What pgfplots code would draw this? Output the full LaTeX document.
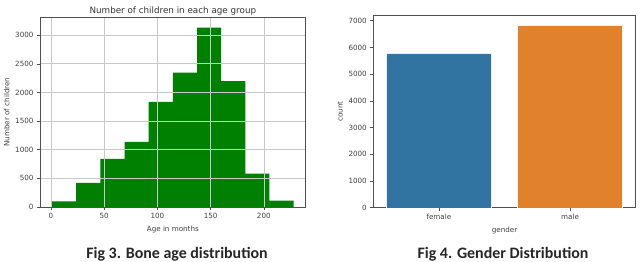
\documentclass[border=0pt]{standalone}
\usepackage{pgfplots}
\pgfplotsset{compat=1.18}
\usepackage{fontspec}
\setmainfont{DejaVu Sans}
\newfontfamily\capfont{Carlito}
\definecolor{mplgreen}{HTML}{008000}
\definecolor{sbblue}{HTML}{3274A1}
\definecolor{sborange}{HTML}{E1812C}
\definecolor{spine}{HTML}{505050}
\definecolor{gridc}{HTML}{C8C8C8}
\begin{document}
\begin{tikzpicture}
\path[use as bounding box] (0bp,0bp) rectangle (640bp,262bp);
\pgfplotsset{every axis/.append style={
  scale only axis,
  axis line style={spine, line width=0.6bp},
  tick style={spine, line width=0.5bp},
  tick align=outside,
  major tick length=3bp,
  tick label style={font=\fontsize{7.2}{8}\selectfont, text=black!75},
  label style={font=\fontsize{7.2}{8}\selectfont, text=black!75},
  /pgf/number format/assume math mode=true,
  /pgf/number format/1000 sep={},
  xtick pos=bottom, ytick pos=left,
}}
\begin{axis}[
  at={(40bp,55bp)}, anchor=south west,
  width=265.7bp, height=190bp,
  xmin=-10.35, xmax=239.35, ymin=0, ymax=3316,
  xtick={0,50,100,150,200},
  ytick={0,500,1000,1500,2000,2500,3000},
  grid=major,
  major grid style={gridc, line width=0.6bp},
  axis on top,
  title={Number of children in each age group},
  title style={font=\fontsize{8.8}{9}\selectfont, text=black!80, yshift=-8bp},
  xlabel={Age in months},
  ylabel={Number of children},
  xlabel style={yshift=0bp},
  ylabel style={yshift=-1bp},
]
\addplot[ybar interval, fill=mplgreen, draw=none] coordinates {
(1,99) (23.7,420) (46.4,839) (69.1,1136) (91.8,1836) (114.5,2343)
(137.2,3129) (159.9,2198) (182.6,584) (205.3,112) (228,0)
};
\end{axis}
\begin{axis}[
  at={(373.3bp,54.3bp)}, anchor=south west,
  width=262.4bp, height=192.7bp,
  xmin=-0.5, xmax=1.5, ymin=0, ymax=7213,
  xtick={0,1}, xticklabels={female,male},
  ytick={0,1000,2000,3000,4000,5000,6000,7000},
  xlabel={gender}, ylabel={count},
  xlabel style={yshift=0bp},
  ylabel style={yshift=-1bp},
]
\addplot[ybar, bar width=0.8, fill=sbblue, draw=white!90!sbblue, line width=0.4bp] coordinates {(0,5780)};
\addplot[ybar, bar width=0.8, fill=sborange, draw=white!90!sborange, line width=0.4bp] coordinates {(1,6840)};
\end{axis}
\node[font=\capfont\bfseries\fontsize{16}{18}\selectfont, text=black!85] at (177bp,7.5bp) {Fig 3. Bone age distribution};
\node[font=\capfont\bfseries\fontsize{16}{18}\selectfont, text=black!85] at (503bp,7.5bp) {Fig 4. Gender Distribution};
\end{tikzpicture}
\end{document}
